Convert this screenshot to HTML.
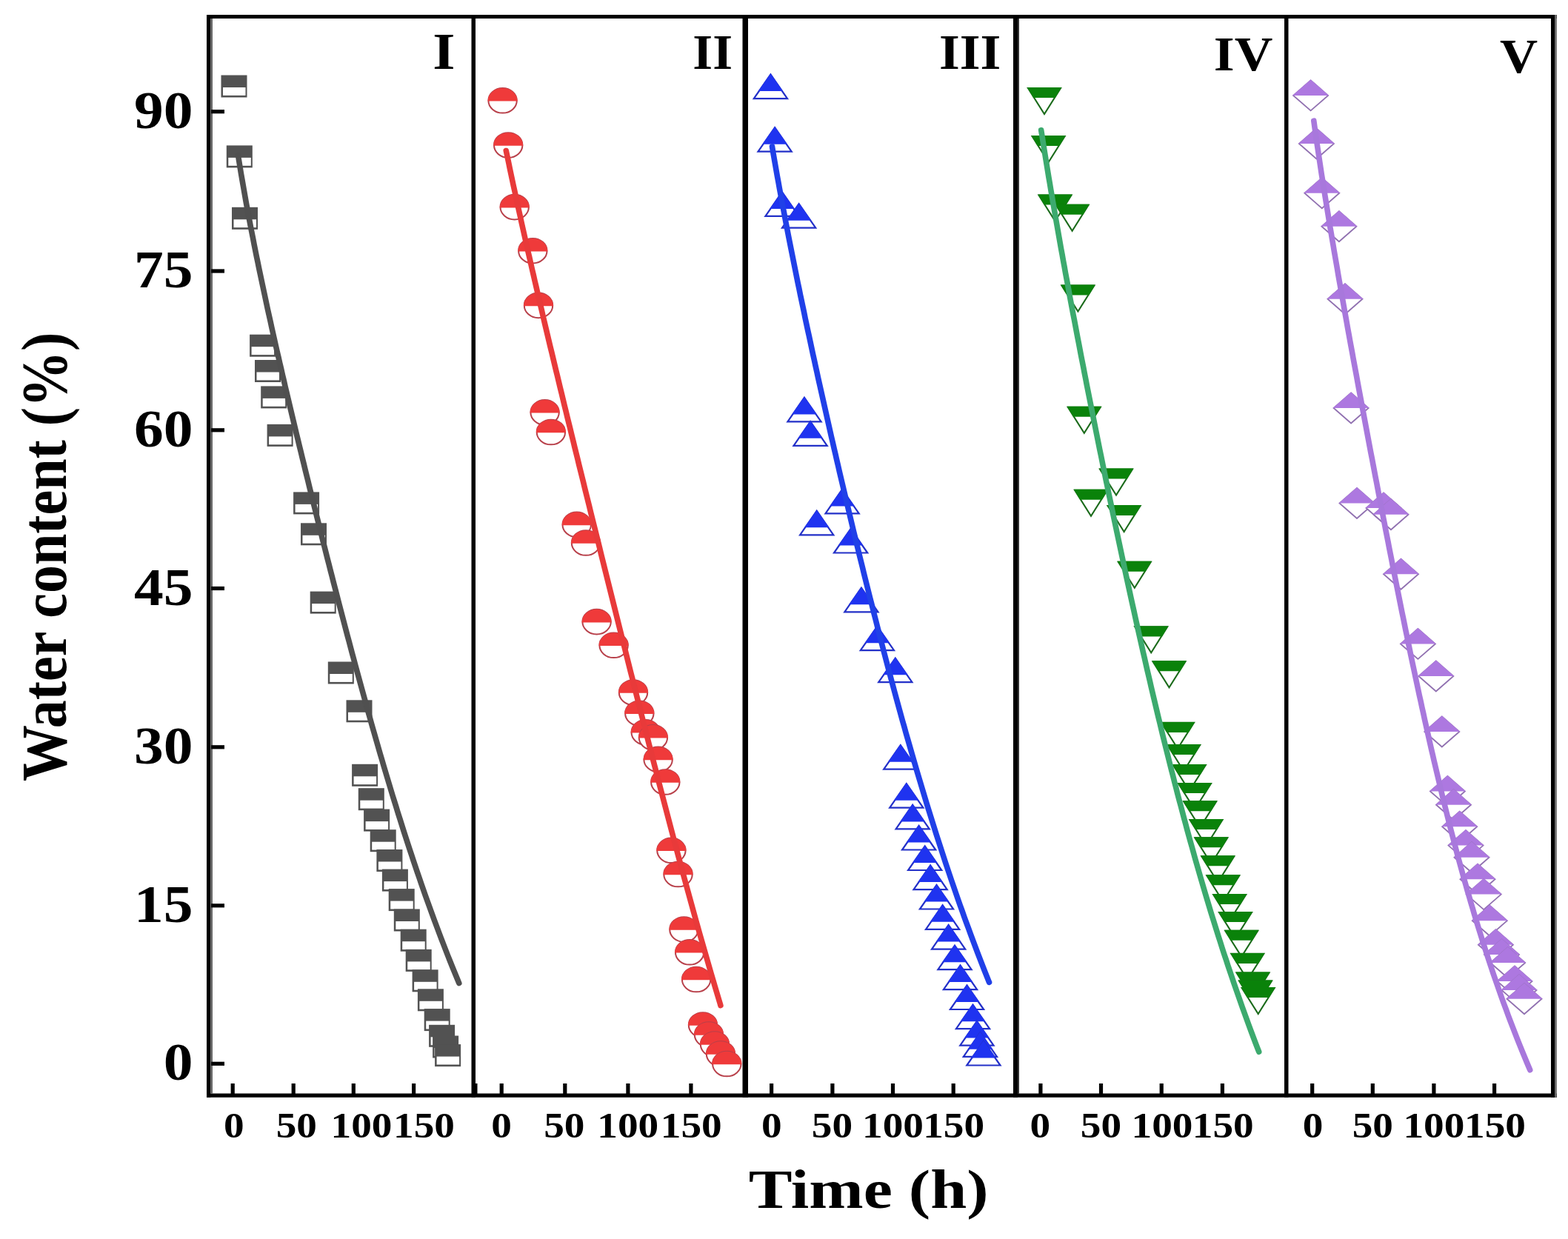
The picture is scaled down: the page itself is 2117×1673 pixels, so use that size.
<!DOCTYPE html><html><head><meta charset="utf-8"><title>Water content vs Time</title><style>html,body{margin:0;padding:0;background:#fff;overflow:hidden;}svg{display:block;}text{font-family:"Liberation Serif","Times New Roman",serif;font-weight:bold;fill:#000;}</style></head><body>
<svg width="2117" height="1673" viewBox="0 0 2117 1673">
<rect width="2117" height="1673" fill="#fff"/>
<g>
<rect x="298.5" y="101.5" width="35" height="30" fill="#525252"/><rect x="301" y="118" width="30.5" height="10.9" fill="#fff"/>
<rect x="305.8" y="196.4" width="35" height="30" fill="#525252"/><rect x="308.3" y="212.9" width="30.5" height="10.9" fill="#fff"/>
<rect x="313" y="279.8" width="35" height="30" fill="#525252"/><rect x="315.5" y="296.3" width="30.5" height="10.9" fill="#fff"/>
<rect x="337.1" y="451.7" width="35" height="30" fill="#525252"/><rect x="339.6" y="468.2" width="30.5" height="10.9" fill="#fff"/>
<rect x="344" y="486" width="35" height="30" fill="#525252"/><rect x="346.5" y="502.5" width="30.5" height="10.9" fill="#fff"/>
<rect x="352.2" y="521.4" width="35" height="30" fill="#525252"/><rect x="354.7" y="537.9" width="30.5" height="10.9" fill="#fff"/>
<rect x="360.6" y="572.9" width="35" height="30" fill="#525252"/><rect x="363.1" y="589.4" width="30.5" height="10.9" fill="#fff"/>
<rect x="396.1" y="664.4" width="35" height="30" fill="#525252"/><rect x="398.6" y="680.9" width="30.5" height="10.9" fill="#fff"/>
<rect x="406" y="706.3" width="35" height="30" fill="#525252"/><rect x="408.5" y="722.8" width="30.5" height="10.9" fill="#fff"/>
<rect x="418.7" y="798.6" width="35" height="30" fill="#525252"/><rect x="421.2" y="815.1" width="30.5" height="10.9" fill="#fff"/>
<rect x="442.8" y="893.5" width="35" height="30" fill="#525252"/><rect x="445.3" y="910" width="30.5" height="10.9" fill="#fff"/>
<rect x="467.5" y="945.3" width="35" height="30" fill="#525252"/><rect x="470" y="961.8" width="30.5" height="10.9" fill="#fff"/>
<rect x="475.1" y="1031.8" width="35" height="30" fill="#525252"/><rect x="477.6" y="1048.3" width="30.5" height="10.9" fill="#fff"/>
<rect x="483.8" y="1064.2" width="35" height="30" fill="#525252"/><rect x="486.3" y="1080.7" width="30.5" height="10.9" fill="#fff"/>
<rect x="491.1" y="1092.6" width="35" height="30" fill="#525252"/><rect x="493.6" y="1109.1" width="30.5" height="10.9" fill="#fff"/>
<rect x="499.7" y="1120.2" width="35" height="30" fill="#525252"/><rect x="502.2" y="1136.7" width="30.5" height="10.9" fill="#fff"/>
<rect x="508.4" y="1147" width="35" height="30" fill="#525252"/><rect x="510.9" y="1163.5" width="30.5" height="10.9" fill="#fff"/>
<rect x="515.9" y="1173.6" width="35" height="30" fill="#525252"/><rect x="518.4" y="1190.1" width="30.5" height="10.9" fill="#fff"/>
<rect x="524.7" y="1200.1" width="35" height="30" fill="#525252"/><rect x="527.2" y="1216.6" width="30.5" height="10.9" fill="#fff"/>
<rect x="531.8" y="1227.5" width="35" height="30" fill="#525252"/><rect x="534.3" y="1244" width="30.5" height="10.9" fill="#fff"/>
<rect x="540.7" y="1254.7" width="35" height="30" fill="#525252"/><rect x="543.2" y="1271.2" width="30.5" height="10.9" fill="#fff"/>
<rect x="547.7" y="1281.9" width="35" height="30" fill="#525252"/><rect x="550.2" y="1298.4" width="30.5" height="10.9" fill="#fff"/>
<rect x="556.6" y="1309.3" width="35" height="30" fill="#525252"/><rect x="559.1" y="1325.8" width="30.5" height="10.9" fill="#fff"/>
<rect x="563.9" y="1335.3" width="35" height="30" fill="#525252"/><rect x="566.4" y="1351.8" width="30.5" height="10.9" fill="#fff"/>
<rect x="572.7" y="1362.1" width="35" height="30" fill="#525252"/><rect x="575.2" y="1378.6" width="30.5" height="10.9" fill="#fff"/>
<rect x="579.1" y="1383.8" width="35" height="30" fill="#525252"/><rect x="581.6" y="1400.3" width="30.5" height="10.9" fill="#fff"/>
<rect x="584.1" y="1398.5" width="35" height="30" fill="#525252"/><rect x="586.6" y="1415" width="30.5" height="10.9" fill="#fff"/>
<rect x="587.1" y="1410.1" width="35" height="30" fill="#525252"/><rect x="589.6" y="1426.6" width="30.5" height="10.9" fill="#fff"/>
<path d="M321.5,210 L322.8,218 L324.1,226 L325.4,234 L326.8,242 L328.2,250 L329.6,258 L331,266 L332.4,274 L333.9,282 L335.4,290 L336.9,298 L338.4,306 L340,314 L341.6,322 L343.1,330 L344.7,338 L346.3,346 L348,354 L349.6,362 L351.3,370 L353,378 L354.7,386 L356.4,394 L358.1,402 L359.8,410 L361.5,418 L363.3,426 L365.1,434 L366.8,442 L368.6,450 L370.4,458 L372.2,466 L374,474 L375.9,482 L377.7,490 L379.6,498 L381.4,506 L383.3,514 L385.1,522 L387,530 L388.9,538 L390.8,546 L392.7,554 L394.6,562 L396.5,570 L398.4,578 L400.3,586 L402.3,594 L404.2,602 L406.2,610 L408.1,618 L410.1,626 L412,634 L414,642 L416,650 L417.9,658 L419.9,666 L421.9,674 L423.9,682 L425.9,690 L427.9,698 L429.9,706 L431.9,714 L433.9,722 L435.9,730 L438,738 L440,746 L442,754 L444.1,762 L446.1,770 L448.2,778 L450.2,786 L452.3,794 L454.4,802 L456.4,810 L458.5,818 L460.6,826 L462.7,834 L464.8,842 L466.9,850 L469,858 L471.2,866 L473.3,874 L475.4,882 L477.6,890 L479.7,898 L481.9,906 L484.1,914 L486.3,922 L488.5,930 L490.7,938 L492.9,946 L495.1,954 L497.3,962 L499.6,970 L501.8,978 L504.1,986 L506.4,994 L508.7,1002 L511,1010 L513.3,1018 L515.7,1026 L518,1034 L520.4,1042 L522.8,1050 L525.2,1058 L527.6,1066 L530,1074 L532.5,1082 L535,1090 L537.4,1098 L540,1106 L542.5,1114 L545,1122 L547.6,1130 L550.2,1138 L552.8,1146 L555.5,1154 L558.1,1162 L560.8,1170 L563.5,1178 L566.3,1186 L569,1194 L571.8,1202 L574.6,1210 L577.5,1218 L580.4,1226 L583.3,1234 L586.2,1242 L589.2,1250 L592.2,1258 L595.2,1266 L598.3,1274 L601.4,1282 L604.5,1290 L607.7,1298 L610.9,1306 L614.2,1314 L617.5,1322 L619.8,1327.6" fill="none" stroke="#505050" stroke-width="7.6" stroke-linejoin="round" stroke-linecap="round"/>
</g>
<g>
<ellipse cx="678.6" cy="135.8" rx="19.2" ry="16.8" fill="#fff" stroke="#b8404a" stroke-width="2"/><path d="M658.6,136.6 A20.0,17.6 0 0 1 698.6,136.6 Z" fill="#ef3a3a"/>
<ellipse cx="686.2" cy="196" rx="19.2" ry="16.8" fill="#fff" stroke="#b8404a" stroke-width="2"/><path d="M666.2,196.8 A20.0,17.6 0 0 1 706.2,196.8 Z" fill="#ef3a3a"/>
<ellipse cx="694.7" cy="279.6" rx="19.2" ry="16.8" fill="#fff" stroke="#b8404a" stroke-width="2"/><path d="M674.7,280.4 A20.0,17.6 0 0 1 714.7,280.4 Z" fill="#ef3a3a"/>
<ellipse cx="719.3" cy="338.7" rx="19.2" ry="16.8" fill="#fff" stroke="#b8404a" stroke-width="2"/><path d="M699.3,339.5 A20.0,17.6 0 0 1 739.3,339.5 Z" fill="#ef3a3a"/>
<ellipse cx="727" cy="412.4" rx="19.2" ry="16.8" fill="#fff" stroke="#b8404a" stroke-width="2"/><path d="M707,413.2 A20.0,17.6 0 0 1 747,413.2 Z" fill="#ef3a3a"/>
<ellipse cx="735.6" cy="556.8" rx="19.2" ry="16.8" fill="#fff" stroke="#b8404a" stroke-width="2"/><path d="M715.6,557.6 A20.0,17.6 0 0 1 755.6,557.6 Z" fill="#ef3a3a"/>
<ellipse cx="743.9" cy="583.5" rx="19.2" ry="16.8" fill="#fff" stroke="#b8404a" stroke-width="2"/><path d="M723.9,584.3 A20.0,17.6 0 0 1 763.9,584.3 Z" fill="#ef3a3a"/>
<ellipse cx="778.7" cy="708.4" rx="19.2" ry="16.8" fill="#fff" stroke="#b8404a" stroke-width="2"/><path d="M758.7,709.2 A20.0,17.6 0 0 1 798.7,709.2 Z" fill="#ef3a3a"/>
<ellipse cx="791" cy="733" rx="19.2" ry="16.8" fill="#fff" stroke="#b8404a" stroke-width="2"/><path d="M771,733.8 A20.0,17.6 0 0 1 811,733.8 Z" fill="#ef3a3a"/>
<ellipse cx="805.6" cy="839.6" rx="19.2" ry="16.8" fill="#fff" stroke="#b8404a" stroke-width="2"/><path d="M785.6,840.4 A20.0,17.6 0 0 1 825.6,840.4 Z" fill="#ef3a3a"/>
<ellipse cx="828.6" cy="871.3" rx="19.2" ry="16.8" fill="#fff" stroke="#b8404a" stroke-width="2"/><path d="M808.6,872.1 A20.0,17.6 0 0 1 848.6,872.1 Z" fill="#ef3a3a"/>
<ellipse cx="855" cy="935" rx="19.2" ry="16.8" fill="#fff" stroke="#b8404a" stroke-width="2"/><path d="M835,935.8 A20.0,17.6 0 0 1 875,935.8 Z" fill="#ef3a3a"/>
<ellipse cx="863.3" cy="963.2" rx="19.2" ry="16.8" fill="#fff" stroke="#b8404a" stroke-width="2"/><path d="M843.3,964 A20.0,17.6 0 0 1 883.3,964 Z" fill="#ef3a3a"/>
<ellipse cx="871.7" cy="988.8" rx="19.2" ry="16.8" fill="#fff" stroke="#b8404a" stroke-width="2"/><path d="M851.7,989.6 A20.0,17.6 0 0 1 891.7,989.6 Z" fill="#ef3a3a"/>
<ellipse cx="881.9" cy="995.8" rx="19.2" ry="16.8" fill="#fff" stroke="#b8404a" stroke-width="2"/><path d="M861.9,996.6 A20.0,17.6 0 0 1 901.9,996.6 Z" fill="#ef3a3a"/>
<ellipse cx="888.6" cy="1025.4" rx="19.2" ry="16.8" fill="#fff" stroke="#b8404a" stroke-width="2"/><path d="M868.6,1026.2 A20.0,17.6 0 0 1 908.6,1026.2 Z" fill="#ef3a3a"/>
<ellipse cx="898.3" cy="1056" rx="19.2" ry="16.8" fill="#fff" stroke="#b8404a" stroke-width="2"/><path d="M878.3,1056.8 A20.0,17.6 0 0 1 918.3,1056.8 Z" fill="#ef3a3a"/>
<ellipse cx="906.4" cy="1148.3" rx="19.2" ry="16.8" fill="#fff" stroke="#b8404a" stroke-width="2"/><path d="M886.4,1149.1 A20.0,17.6 0 0 1 926.4,1149.1 Z" fill="#ef3a3a"/>
<ellipse cx="915.5" cy="1180.5" rx="19.2" ry="16.8" fill="#fff" stroke="#b8404a" stroke-width="2"/><path d="M895.5,1181.3 A20.0,17.6 0 0 1 935.5,1181.3 Z" fill="#ef3a3a"/>
<ellipse cx="923.4" cy="1255" rx="19.2" ry="16.8" fill="#fff" stroke="#b8404a" stroke-width="2"/><path d="M903.4,1255.8 A20.0,17.6 0 0 1 943.4,1255.8 Z" fill="#ef3a3a"/>
<ellipse cx="931.1" cy="1285.8" rx="19.2" ry="16.8" fill="#fff" stroke="#b8404a" stroke-width="2"/><path d="M911.1,1286.6 A20.0,17.6 0 0 1 951.1,1286.6 Z" fill="#ef3a3a"/>
<ellipse cx="940.1" cy="1322.5" rx="19.2" ry="16.8" fill="#fff" stroke="#b8404a" stroke-width="2"/><path d="M920.1,1323.3 A20.0,17.6 0 0 1 960.1,1323.3 Z" fill="#ef3a3a"/>
<ellipse cx="949" cy="1384" rx="19.2" ry="16.8" fill="#fff" stroke="#b8404a" stroke-width="2"/><path d="M929,1384.8 A20.0,17.6 0 0 1 969,1384.8 Z" fill="#ef3a3a"/>
<ellipse cx="957" cy="1397" rx="19.2" ry="16.8" fill="#fff" stroke="#b8404a" stroke-width="2"/><path d="M937,1397.8 A20.0,17.6 0 0 1 977,1397.8 Z" fill="#ef3a3a"/>
<ellipse cx="965" cy="1410" rx="19.2" ry="16.8" fill="#fff" stroke="#b8404a" stroke-width="2"/><path d="M945,1410.8 A20.0,17.6 0 0 1 985,1410.8 Z" fill="#ef3a3a"/>
<ellipse cx="973" cy="1423" rx="19.2" ry="16.8" fill="#fff" stroke="#b8404a" stroke-width="2"/><path d="M953,1423.8 A20.0,17.6 0 0 1 993,1423.8 Z" fill="#ef3a3a"/>
<ellipse cx="981.3" cy="1436.5" rx="19.2" ry="16.8" fill="#fff" stroke="#b8404a" stroke-width="2"/><path d="M961.3,1437.3 A20.0,17.6 0 0 1 1001.3,1437.3 Z" fill="#ef3a3a"/>
<path d="M683.3,203.5 L685,211.5 L686.7,219.5 L688.3,227.5 L690,235.5 L691.7,243.5 L693.4,251.5 L695.2,259.5 L696.9,267.5 L698.7,275.5 L700.4,283.5 L702.2,291.5 L703.9,299.5 L705.7,307.5 L707.5,315.5 L709.3,323.5 L711.1,331.5 L712.9,339.5 L714.8,347.5 L716.6,355.5 L718.4,363.5 L720.3,371.5 L722.1,379.5 L724,387.5 L725.8,395.5 L727.7,403.5 L729.6,411.5 L731.5,419.5 L733.3,427.5 L735.2,435.5 L737.1,443.5 L739,451.5 L740.9,459.5 L742.8,467.5 L744.8,475.5 L746.7,483.5 L748.6,491.5 L750.5,499.5 L752.5,507.5 L754.4,515.5 L756.3,523.5 L758.3,531.5 L760.2,539.5 L762.1,547.5 L764.1,555.5 L766,563.5 L768,571.5 L770,579.5 L771.9,587.5 L773.9,595.5 L775.8,603.5 L777.8,611.5 L779.8,619.5 L781.7,627.5 L783.7,635.5 L785.7,643.5 L787.7,651.5 L789.6,659.5 L791.6,667.5 L793.6,675.5 L795.6,683.5 L797.5,691.5 L799.5,699.5 L801.5,707.5 L803.5,715.5 L805.5,723.5 L807.5,731.5 L809.5,739.5 L811.4,747.5 L813.4,755.5 L815.4,763.5 L817.4,771.5 L819.4,779.5 L821.4,787.5 L823.4,795.5 L825.4,803.5 L827.4,811.5 L829.4,819.5 L831.4,827.5 L833.4,835.5 L835.4,843.5 L837.4,851.5 L839.4,859.5 L841.5,867.5 L843.5,875.5 L845.5,883.5 L847.5,891.5 L849.5,899.5 L851.5,907.5 L853.6,915.5 L855.6,923.5 L857.6,931.5 L859.6,939.5 L861.7,947.5 L863.7,955.5 L865.7,963.5 L867.8,971.5 L869.8,979.5 L871.9,987.5 L873.9,995.5 L875.9,1003.5 L878,1011.5 L880.1,1019.5 L882.1,1027.5 L884.2,1035.5 L886.3,1043.5 L888.3,1051.5 L890.4,1059.5 L892.5,1067.5 L894.6,1075.5 L896.7,1083.5 L898.8,1091.5 L900.9,1099.5 L903,1107.5 L905.1,1115.5 L907.2,1123.5 L909.3,1131.5 L911.5,1139.5 L913.6,1147.5 L915.7,1155.5 L917.9,1163.5 L920,1171.5 L922.2,1179.5 L924.4,1187.5 L926.6,1195.5 L928.8,1203.5 L931,1211.5 L933.2,1219.5 L935.4,1227.5 L937.6,1235.5 L939.8,1243.5 L942.1,1251.5 L944.3,1259.5 L946.6,1267.5 L948.9,1275.5 L951.2,1283.5 L953.5,1291.5 L955.8,1299.5 L958.1,1307.5 L960.4,1315.5 L962.8,1323.5 L965.1,1331.5 L967.5,1339.5 L969.9,1347.5 L972.3,1355.5 L972.9,1357.7" fill="none" stroke="#e83a3a" stroke-width="7.6" stroke-linejoin="round" stroke-linecap="round"/>
</g>
<g>
<polygon points="1040.4,100.5 1063,133.1 1017.8,133.1" fill="#fff" stroke="#2330c8" stroke-width="2.2" stroke-linejoin="miter"/><polygon points="1040.4,99.5 1057.1,123.1 1023.7,123.1" fill="#1f33f0"/>
<polygon points="1046.1,172.1 1068.7,204.7 1023.5,204.7" fill="#fff" stroke="#2330c8" stroke-width="2.2" stroke-linejoin="miter"/><polygon points="1046.1,171.1 1062.8,194.7 1029.4,194.7" fill="#1f33f0"/>
<polygon points="1056,259.3 1078.6,291.9 1033.4,291.9" fill="#fff" stroke="#2330c8" stroke-width="2.2" stroke-linejoin="miter"/><polygon points="1056,258.3 1072.7,281.9 1039.3,281.9" fill="#1f33f0"/>
<polygon points="1078.6,275.1 1101.2,307.7 1056,307.7" fill="#fff" stroke="#2330c8" stroke-width="2.2" stroke-linejoin="miter"/><polygon points="1078.6,274.1 1095.3,297.7 1061.9,297.7" fill="#1f33f0"/>
<polygon points="1086,536.8 1108.6,569.4 1063.4,569.4" fill="#fff" stroke="#2330c8" stroke-width="2.2" stroke-linejoin="miter"/><polygon points="1086,535.8 1102.7,559.4 1069.3,559.4" fill="#1f33f0"/>
<polygon points="1094.1,569.2 1116.7,601.8 1071.5,601.8" fill="#fff" stroke="#2330c8" stroke-width="2.2" stroke-linejoin="miter"/><polygon points="1094.1,568.2 1110.8,591.8 1077.4,591.8" fill="#1f33f0"/>
<polygon points="1102.7,689.7 1125.3,722.3 1080.1,722.3" fill="#fff" stroke="#2330c8" stroke-width="2.2" stroke-linejoin="miter"/><polygon points="1102.7,688.7 1119.4,712.3 1086,712.3" fill="#1f33f0"/>
<polygon points="1137.1,660.8 1159.7,693.4 1114.5,693.4" fill="#fff" stroke="#2330c8" stroke-width="2.2" stroke-linejoin="miter"/><polygon points="1137.1,659.8 1153.8,683.4 1120.4,683.4" fill="#1f33f0"/>
<polygon points="1148.6,713.9 1171.2,746.5 1126,746.5" fill="#fff" stroke="#2330c8" stroke-width="2.2" stroke-linejoin="miter"/><polygon points="1148.6,712.9 1165.3,736.5 1131.9,736.5" fill="#1f33f0"/>
<polygon points="1162.9,793.7 1185.5,826.3 1140.3,826.3" fill="#fff" stroke="#2330c8" stroke-width="2.2" stroke-linejoin="miter"/><polygon points="1162.9,792.7 1179.6,816.3 1146.2,816.3" fill="#1f33f0"/>
<polygon points="1184.4,845.6 1207,878.2 1161.8,878.2" fill="#fff" stroke="#2330c8" stroke-width="2.2" stroke-linejoin="miter"/><polygon points="1184.4,844.6 1201.1,868.2 1167.7,868.2" fill="#1f33f0"/>
<polygon points="1208.8,888.6 1231.4,921.2 1186.2,921.2" fill="#fff" stroke="#2330c8" stroke-width="2.2" stroke-linejoin="miter"/><polygon points="1208.8,887.6 1225.5,911.2 1192.1,911.2" fill="#1f33f0"/>
<polygon points="1215.8,1006.1 1238.4,1038.7 1193.2,1038.7" fill="#fff" stroke="#2330c8" stroke-width="2.2" stroke-linejoin="miter"/><polygon points="1215.8,1005.1 1232.5,1028.7 1199.1,1028.7" fill="#1f33f0"/>
<polygon points="1223.8,1058.1 1246.4,1090.7 1201.2,1090.7" fill="#fff" stroke="#2330c8" stroke-width="2.2" stroke-linejoin="miter"/><polygon points="1223.8,1057.1 1240.5,1080.7 1207.1,1080.7" fill="#1f33f0"/>
<polygon points="1232.2,1086.8 1254.8,1119.4 1209.6,1119.4" fill="#fff" stroke="#2330c8" stroke-width="2.2" stroke-linejoin="miter"/><polygon points="1232.2,1085.8 1248.9,1109.4 1215.5,1109.4" fill="#1f33f0"/>
<polygon points="1240.6,1114.9 1263.2,1147.5 1218,1147.5" fill="#fff" stroke="#2330c8" stroke-width="2.2" stroke-linejoin="miter"/><polygon points="1240.6,1113.9 1257.3,1137.5 1223.9,1137.5" fill="#1f33f0"/>
<polygon points="1248.7,1142.4 1271.3,1175 1226.1,1175" fill="#fff" stroke="#2330c8" stroke-width="2.2" stroke-linejoin="miter"/><polygon points="1248.7,1141.4 1265.4,1165 1232,1165" fill="#1f33f0"/>
<polygon points="1256.1,1168.5 1278.7,1201.1 1233.5,1201.1" fill="#fff" stroke="#2330c8" stroke-width="2.2" stroke-linejoin="miter"/><polygon points="1256.1,1167.5 1272.8,1191.1 1239.4,1191.1" fill="#1f33f0"/>
<polygon points="1264.5,1194.9 1287.1,1227.5 1241.9,1227.5" fill="#fff" stroke="#2330c8" stroke-width="2.2" stroke-linejoin="miter"/><polygon points="1264.5,1193.9 1281.2,1217.5 1247.8,1217.5" fill="#1f33f0"/>
<polygon points="1272.6,1222.2 1295.2,1254.8 1250,1254.8" fill="#fff" stroke="#2330c8" stroke-width="2.2" stroke-linejoin="miter"/><polygon points="1272.6,1221.2 1289.3,1244.8 1255.9,1244.8" fill="#1f33f0"/>
<polygon points="1280.6,1249 1303.2,1281.6 1258,1281.6" fill="#fff" stroke="#2330c8" stroke-width="2.2" stroke-linejoin="miter"/><polygon points="1280.6,1248 1297.3,1271.6 1263.9,1271.6" fill="#1f33f0"/>
<polygon points="1289,1276.6 1311.6,1309.2 1266.4,1309.2" fill="#fff" stroke="#2330c8" stroke-width="2.2" stroke-linejoin="miter"/><polygon points="1289,1275.6 1305.7,1299.2 1272.3,1299.2" fill="#1f33f0"/>
<polygon points="1296.5,1303.5 1319.1,1336.1 1273.9,1336.1" fill="#fff" stroke="#2330c8" stroke-width="2.2" stroke-linejoin="miter"/><polygon points="1296.5,1302.5 1313.2,1326.1 1279.8,1326.1" fill="#1f33f0"/>
<polygon points="1305.5,1330.4 1328.1,1363 1282.9,1363" fill="#fff" stroke="#2330c8" stroke-width="2.2" stroke-linejoin="miter"/><polygon points="1305.5,1329.4 1322.2,1353 1288.8,1353" fill="#1f33f0"/>
<polygon points="1313.5,1356.6 1336.1,1389.2 1290.9,1389.2" fill="#fff" stroke="#2330c8" stroke-width="2.2" stroke-linejoin="miter"/><polygon points="1313.5,1355.6 1330.2,1379.2 1296.8,1379.2" fill="#1f33f0"/>
<polygon points="1318.9,1379 1341.5,1411.6 1296.3,1411.6" fill="#fff" stroke="#2330c8" stroke-width="2.2" stroke-linejoin="miter"/><polygon points="1318.9,1378 1335.6,1401.6 1302.2,1401.6" fill="#1f33f0"/>
<polygon points="1323.4,1394.2 1346,1426.8 1300.8,1426.8" fill="#fff" stroke="#2330c8" stroke-width="2.2" stroke-linejoin="miter"/><polygon points="1323.4,1393.2 1340.1,1416.8 1306.7,1416.8" fill="#1f33f0"/>
<polygon points="1327.9,1405.9 1350.5,1438.5 1305.3,1438.5" fill="#fff" stroke="#2330c8" stroke-width="2.2" stroke-linejoin="miter"/><polygon points="1327.9,1404.9 1344.6,1428.5 1311.2,1428.5" fill="#1f33f0"/>
<path d="M1042.5,197.9 L1043.8,205.9 L1045.2,213.9 L1046.6,221.9 L1048,229.9 L1049.4,237.9 L1050.9,245.9 L1052.3,253.9 L1053.8,261.9 L1055.3,269.9 L1056.8,277.9 L1058.3,285.9 L1059.8,293.9 L1061.3,301.9 L1062.9,309.9 L1064.4,317.9 L1066,325.9 L1067.6,333.9 L1069.2,341.9 L1070.8,349.9 L1072.4,357.9 L1074,365.9 L1075.6,373.9 L1077.2,381.9 L1078.9,389.9 L1080.5,397.9 L1082.2,405.9 L1083.9,413.9 L1085.6,421.9 L1087.2,429.9 L1088.9,437.9 L1090.6,445.9 L1092.4,453.9 L1094.1,461.9 L1095.8,469.9 L1097.5,477.9 L1099.3,485.9 L1101,493.9 L1102.8,501.9 L1104.5,509.9 L1106.3,517.9 L1108.1,525.9 L1109.9,533.9 L1111.7,541.9 L1113.5,549.9 L1115.3,557.9 L1117.1,565.9 L1118.9,573.9 L1120.7,581.9 L1122.5,589.9 L1124.4,597.9 L1126.2,605.9 L1128.1,613.9 L1129.9,621.9 L1131.8,629.9 L1133.6,637.9 L1135.5,645.9 L1137.4,653.9 L1139.3,661.9 L1141.2,669.9 L1143.1,677.9 L1145,685.9 L1146.9,693.9 L1148.8,701.9 L1150.7,709.9 L1152.6,717.9 L1154.6,725.9 L1156.5,733.9 L1158.5,741.9 L1160.4,749.9 L1162.4,757.9 L1164.4,765.9 L1166.3,773.9 L1168.3,781.9 L1170.3,789.9 L1172.3,797.9 L1174.3,805.9 L1176.4,813.9 L1178.4,821.9 L1180.4,829.9 L1182.5,837.9 L1184.5,845.9 L1186.6,853.9 L1188.6,861.9 L1190.7,869.9 L1192.8,877.9 L1194.9,885.9 L1197,893.9 L1199.1,901.9 L1201.3,909.9 L1203.4,917.9 L1205.6,925.9 L1207.7,933.9 L1209.9,941.9 L1212.1,949.9 L1214.3,957.9 L1216.5,965.9 L1218.7,973.9 L1221,981.9 L1223.2,989.9 L1225.5,997.9 L1227.8,1005.9 L1230.1,1013.9 L1232.4,1021.9 L1234.7,1029.9 L1237,1037.9 L1239.4,1045.9 L1241.8,1053.9 L1244.2,1061.9 L1246.6,1069.9 L1249,1077.9 L1251.4,1085.9 L1253.9,1093.9 L1256.4,1101.9 L1258.9,1109.9 L1261.4,1117.9 L1263.9,1125.9 L1266.5,1133.9 L1269.1,1141.9 L1271.7,1149.9 L1274.3,1157.9 L1276.9,1165.9 L1279.6,1173.9 L1282.3,1181.9 L1285,1189.9 L1287.8,1197.9 L1290.5,1205.9 L1293.3,1213.9 L1296.1,1221.9 L1299,1229.9 L1301.8,1237.9 L1304.7,1245.9 L1307.7,1253.9 L1310.6,1261.9 L1313.6,1269.9 L1316.6,1277.9 L1319.6,1285.9 L1322.7,1293.9 L1325.8,1301.9 L1328.9,1309.9 L1332.1,1317.9 L1335.3,1325.9 L1335.5,1326.3" fill="none" stroke="#2040e8" stroke-width="7.6" stroke-linejoin="round" stroke-linecap="round"/>
</g>
<g>
<polygon points="1388,119.1 1432,119.1 1410,154.1" fill="#fff" stroke="#1b6b1b" stroke-width="2.1"/><polygon points="1387,118.1 1433,118.1 1424.8,132.1 1395.2,132.1" fill="#0a820a"/>
<polygon points="1393.6,184.1 1437.6,184.1 1415.6,219.1" fill="#fff" stroke="#1b6b1b" stroke-width="2.1"/><polygon points="1392.6,183.1 1438.6,183.1 1430.4,197.1 1400.8,197.1" fill="#0a820a"/>
<polygon points="1402.5,263.5 1446.5,263.5 1424.5,298.5" fill="#fff" stroke="#1b6b1b" stroke-width="2.1"/><polygon points="1401.5,262.5 1447.5,262.5 1439.3,276.5 1409.7,276.5" fill="#0a820a"/>
<polygon points="1425.6,276.8 1469.6,276.8 1447.6,311.8" fill="#fff" stroke="#1b6b1b" stroke-width="2.1"/><polygon points="1424.6,275.8 1470.6,275.8 1462.4,289.8 1432.8,289.8" fill="#0a820a"/>
<polygon points="1433.4,385.6 1477.4,385.6 1455.4,420.6" fill="#fff" stroke="#1b6b1b" stroke-width="2.1"/><polygon points="1432.4,384.6 1478.4,384.6 1470.2,398.6 1440.6,398.6" fill="#0a820a"/>
<polygon points="1441.8,549.8 1485.8,549.8 1463.8,584.8" fill="#fff" stroke="#1b6b1b" stroke-width="2.1"/><polygon points="1440.8,548.8 1486.8,548.8 1478.6,562.8 1449,562.8" fill="#0a820a"/>
<polygon points="1451,661.7 1495,661.7 1473,696.7" fill="#fff" stroke="#1b6b1b" stroke-width="2.1"/><polygon points="1450,660.7 1496,660.7 1487.8,674.7 1458.2,674.7" fill="#0a820a"/>
<polygon points="1485,633.5 1529,633.5 1507,668.5" fill="#fff" stroke="#1b6b1b" stroke-width="2.1"/><polygon points="1484,632.5 1530,632.5 1521.8,646.5 1492.2,646.5" fill="#0a820a"/>
<polygon points="1495.6,683 1539.6,683 1517.6,718" fill="#fff" stroke="#1b6b1b" stroke-width="2.1"/><polygon points="1494.6,682 1540.6,682 1532.4,696 1502.8,696" fill="#0a820a"/>
<polygon points="1509.8,758.8 1553.8,758.8 1531.8,793.8" fill="#fff" stroke="#1b6b1b" stroke-width="2.1"/><polygon points="1508.8,757.8 1554.8,757.8 1546.6,771.8 1517,771.8" fill="#0a820a"/>
<polygon points="1532.2,846.4 1576.2,846.4 1554.2,881.4" fill="#fff" stroke="#1b6b1b" stroke-width="2.1"/><polygon points="1531.2,845.4 1577.2,845.4 1569,859.4 1539.4,859.4" fill="#0a820a"/>
<polygon points="1556.5,893.3 1600.5,893.3 1578.5,928.3" fill="#fff" stroke="#1b6b1b" stroke-width="2.1"/><polygon points="1555.5,892.3 1601.5,892.3 1593.3,906.3 1563.7,906.3" fill="#0a820a"/>
<polygon points="1568,975.9 1612,975.9 1590,1010.9" fill="#fff" stroke="#1b6b1b" stroke-width="2.1"/><polygon points="1567,974.9 1613,974.9 1604.8,988.9 1575.2,988.9" fill="#0a820a"/>
<polygon points="1576.2,1006 1620.2,1006 1598.2,1041" fill="#fff" stroke="#1b6b1b" stroke-width="2.1"/><polygon points="1575.2,1005 1621.2,1005 1613,1019 1583.4,1019" fill="#0a820a"/>
<polygon points="1583.8,1033.1 1627.8,1033.1 1605.8,1068.1" fill="#fff" stroke="#1b6b1b" stroke-width="2.1"/><polygon points="1582.8,1032.1 1628.8,1032.1 1620.6,1046.1 1591,1046.1" fill="#0a820a"/>
<polygon points="1591,1058 1635,1058 1613,1093" fill="#fff" stroke="#1b6b1b" stroke-width="2.1"/><polygon points="1590,1057 1636,1057 1627.8,1071 1598.2,1071" fill="#0a820a"/>
<polygon points="1598.2,1082.2 1642.2,1082.2 1620.2,1117.2" fill="#fff" stroke="#1b6b1b" stroke-width="2.1"/><polygon points="1597.2,1081.2 1643.2,1081.2 1635,1095.2 1605.4,1095.2" fill="#0a820a"/>
<polygon points="1606.5,1107 1650.5,1107 1628.5,1142" fill="#fff" stroke="#1b6b1b" stroke-width="2.1"/><polygon points="1605.5,1106 1651.5,1106 1643.3,1120 1613.7,1120" fill="#0a820a"/>
<polygon points="1613.3,1131.3 1657.3,1131.3 1635.3,1166.3" fill="#fff" stroke="#1b6b1b" stroke-width="2.1"/><polygon points="1612.3,1130.3 1658.3,1130.3 1650.1,1144.3 1620.5,1144.3" fill="#0a820a"/>
<polygon points="1622.3,1156.2 1666.3,1156.2 1644.3,1191.2" fill="#fff" stroke="#1b6b1b" stroke-width="2.1"/><polygon points="1621.3,1155.2 1667.3,1155.2 1659.1,1169.2 1629.5,1169.2" fill="#0a820a"/>
<polygon points="1629.3,1182.3 1673.3,1182.3 1651.3,1217.3" fill="#fff" stroke="#1b6b1b" stroke-width="2.1"/><polygon points="1628.3,1181.3 1674.3,1181.3 1666.1,1195.3 1636.5,1195.3" fill="#0a820a"/>
<polygon points="1638.2,1208 1682.2,1208 1660.2,1243" fill="#fff" stroke="#1b6b1b" stroke-width="2.1"/><polygon points="1637.2,1207 1683.2,1207 1675,1221 1645.4,1221" fill="#0a820a"/>
<polygon points="1646,1232 1690,1232 1668,1267" fill="#fff" stroke="#1b6b1b" stroke-width="2.1"/><polygon points="1645,1231 1691,1231 1682.8,1245 1653.2,1245" fill="#0a820a"/>
<polygon points="1654.2,1256.8 1698.2,1256.8 1676.2,1291.8" fill="#fff" stroke="#1b6b1b" stroke-width="2.1"/><polygon points="1653.2,1255.8 1699.2,1255.8 1691,1269.8 1661.4,1269.8" fill="#0a820a"/>
<polygon points="1662.3,1287.9 1706.3,1287.9 1684.3,1322.9" fill="#fff" stroke="#1b6b1b" stroke-width="2.1"/><polygon points="1661.3,1286.9 1707.3,1286.9 1699.1,1300.9 1669.5,1300.9" fill="#0a820a"/>
<polygon points="1669.5,1313.5 1713.5,1313.5 1691.5,1348.5" fill="#fff" stroke="#1b6b1b" stroke-width="2.1"/><polygon points="1668.5,1312.5 1714.5,1312.5 1706.3,1326.5 1676.7,1326.5" fill="#0a820a"/>
<polygon points="1673,1324.5 1717,1324.5 1695,1359.5" fill="#fff" stroke="#1b6b1b" stroke-width="2.1"/><polygon points="1672,1323.5 1718,1323.5 1709.8,1337.5 1680.2,1337.5" fill="#0a820a"/>
<polygon points="1676.7,1334 1720.7,1334 1698.7,1369" fill="#fff" stroke="#1b6b1b" stroke-width="2.1"/><polygon points="1675.7,1333 1721.7,1333 1713.5,1347 1683.9,1347" fill="#0a820a"/>
<path d="M1405.7,175.8 L1407,183.8 L1408.2,191.8 L1409.5,199.8 L1410.8,207.8 L1412.1,215.8 L1413.4,223.8 L1414.7,231.8 L1416,239.8 L1417.4,247.8 L1418.7,255.8 L1420.1,263.8 L1421.4,271.8 L1422.8,279.8 L1424.2,287.8 L1425.6,295.8 L1427,303.8 L1428.4,311.8 L1429.8,319.8 L1431.2,327.8 L1432.6,335.8 L1434.1,343.8 L1435.5,351.8 L1437,359.8 L1438.4,367.8 L1439.9,375.8 L1441.4,383.8 L1442.9,391.8 L1444.3,399.8 L1445.8,407.8 L1447.3,415.8 L1448.8,423.8 L1450.4,431.8 L1451.9,439.8 L1453.4,447.8 L1454.9,455.8 L1456.5,463.8 L1458,471.8 L1459.5,479.8 L1461.1,487.8 L1462.7,495.8 L1464.2,503.8 L1465.8,511.8 L1467.3,519.8 L1468.9,527.8 L1470.5,535.8 L1472.1,543.8 L1473.7,551.8 L1475.3,559.8 L1476.9,567.8 L1478.5,575.8 L1480.1,583.8 L1481.7,591.8 L1483.3,599.8 L1484.9,607.8 L1486.6,615.8 L1488.2,623.8 L1489.8,631.8 L1491.5,639.8 L1493.1,647.8 L1494.8,655.8 L1496.4,663.8 L1498.1,671.8 L1499.8,679.8 L1501.4,687.8 L1503.1,695.8 L1504.8,703.8 L1506.5,711.8 L1508.2,719.8 L1509.9,727.8 L1511.6,735.8 L1513.3,743.8 L1515,751.8 L1516.7,759.8 L1518.4,767.8 L1520.1,775.8 L1521.9,783.8 L1523.6,791.8 L1525.4,799.8 L1527.1,807.8 L1528.9,815.8 L1530.7,823.8 L1532.4,831.8 L1534.2,839.8 L1536,847.8 L1537.8,855.8 L1539.6,863.8 L1541.4,871.8 L1543.2,879.8 L1545.1,887.8 L1546.9,895.8 L1548.7,903.8 L1550.6,911.8 L1552.5,919.8 L1554.3,927.8 L1556.2,935.8 L1558.1,943.8 L1560,951.8 L1561.9,959.8 L1563.8,967.8 L1565.8,975.8 L1567.7,983.8 L1569.6,991.8 L1571.6,999.8 L1573.6,1007.8 L1575.6,1015.8 L1577.6,1023.8 L1579.6,1031.8 L1581.6,1039.8 L1583.7,1047.8 L1585.7,1055.8 L1587.8,1063.8 L1589.8,1071.8 L1591.9,1079.8 L1594.1,1087.8 L1596.2,1095.8 L1598.3,1103.8 L1600.5,1111.8 L1602.6,1119.8 L1604.8,1127.8 L1607,1135.8 L1609.3,1143.8 L1611.5,1151.8 L1613.7,1159.8 L1616,1167.8 L1618.3,1175.8 L1620.6,1183.8 L1623,1191.8 L1625.3,1199.8 L1627.7,1207.8 L1630.1,1215.8 L1632.5,1223.8 L1634.9,1231.8 L1637.4,1239.8 L1639.9,1247.8 L1642.4,1255.8 L1644.9,1263.8 L1647.5,1271.8 L1650,1279.8 L1652.6,1287.8 L1655.3,1295.8 L1657.9,1303.8 L1660.6,1311.8 L1663.3,1319.8 L1666,1327.8 L1668.8,1335.8 L1671.6,1343.8 L1674.4,1351.8 L1677.2,1359.8 L1680.1,1367.8 L1683,1375.8 L1685.9,1383.8 L1688.9,1391.8 L1691.9,1399.8 L1694.9,1407.8 L1698,1415.8 L1699.7,1420.2" fill="none" stroke="#3caa6e" stroke-width="7.6" stroke-linejoin="round" stroke-linecap="round"/>
</g>
<g>
<polygon points="1769.6,108.4 1793.1,128.9 1769.6,149.4 1746.1,128.9" fill="#fff" stroke="#9070b0" stroke-width="1.8"/><polygon points="1769.6,107.4 1794.1,128.9 1745.1,128.9" fill="#ad78e0"/>
<polygon points="1777.4,173.5 1800.9,194 1777.4,214.5 1753.9,194" fill="#fff" stroke="#9070b0" stroke-width="1.8"/><polygon points="1777.4,172.5 1801.9,194 1752.9,194" fill="#ad78e0"/>
<polygon points="1784.8,240.3 1808.3,260.8 1784.8,281.3 1761.3,260.8" fill="#fff" stroke="#9070b0" stroke-width="1.8"/><polygon points="1784.8,239.3 1809.3,260.8 1760.3,260.8" fill="#ad78e0"/>
<polygon points="1807.9,285.2 1831.4,305.7 1807.9,326.2 1784.4,305.7" fill="#fff" stroke="#9070b0" stroke-width="1.8"/><polygon points="1807.9,284.2 1832.4,305.7 1783.4,305.7" fill="#ad78e0"/>
<polygon points="1816,383.2 1839.5,403.7 1816,424.2 1792.5,403.7" fill="#fff" stroke="#9070b0" stroke-width="1.8"/><polygon points="1816,382.2 1840.5,403.7 1791.5,403.7" fill="#ad78e0"/>
<polygon points="1824.1,530.5 1847.6,551 1824.1,571.5 1800.6,551" fill="#fff" stroke="#9070b0" stroke-width="1.8"/><polygon points="1824.1,529.5 1848.6,551 1799.6,551" fill="#ad78e0"/>
<polygon points="1832,659 1855.5,679.5 1832,700 1808.5,679.5" fill="#fff" stroke="#9070b0" stroke-width="1.8"/><polygon points="1832,658 1856.5,679.5 1807.5,679.5" fill="#ad78e0"/>
<polygon points="1868,665.5 1891.5,686 1868,706.5 1844.5,686" fill="#fff" stroke="#9070b0" stroke-width="1.8"/><polygon points="1868,664.5 1892.5,686 1843.5,686" fill="#ad78e0"/>
<polygon points="1878,674.2 1901.5,694.7 1878,715.2 1854.5,694.7" fill="#fff" stroke="#9070b0" stroke-width="1.8"/><polygon points="1878,673.2 1902.5,694.7 1853.5,694.7" fill="#ad78e0"/>
<polygon points="1891.5,754.8 1915,775.3 1891.5,795.8 1868,775.3" fill="#fff" stroke="#9070b0" stroke-width="1.8"/><polygon points="1891.5,753.8 1916,775.3 1867,775.3" fill="#ad78e0"/>
<polygon points="1914.4,848.9 1937.9,869.4 1914.4,889.9 1890.9,869.4" fill="#fff" stroke="#9070b0" stroke-width="1.8"/><polygon points="1914.4,847.9 1938.9,869.4 1889.9,869.4" fill="#ad78e0"/>
<polygon points="1938.8,892.5 1962.3,913 1938.8,933.5 1915.3,913" fill="#fff" stroke="#9070b0" stroke-width="1.8"/><polygon points="1938.8,891.5 1963.3,913 1914.3,913" fill="#ad78e0"/>
<polygon points="1946.8,967.5 1970.3,988 1946.8,1008.5 1923.3,988" fill="#fff" stroke="#9070b0" stroke-width="1.8"/><polygon points="1946.8,966.5 1971.3,988 1922.3,988" fill="#ad78e0"/>
<polygon points="1954.4,1047.9 1977.9,1068.4 1954.4,1088.9 1930.9,1068.4" fill="#fff" stroke="#9070b0" stroke-width="1.8"/><polygon points="1954.4,1046.9 1978.9,1068.4 1929.9,1068.4" fill="#ad78e0"/>
<polygon points="1962.5,1066.2 1986,1086.7 1962.5,1107.2 1939,1086.7" fill="#fff" stroke="#9070b0" stroke-width="1.8"/><polygon points="1962.5,1065.2 1987,1086.7 1938,1086.7" fill="#ad78e0"/>
<polygon points="1970.7,1095.7 1994.2,1116.2 1970.7,1136.7 1947.2,1116.2" fill="#fff" stroke="#9070b0" stroke-width="1.8"/><polygon points="1970.7,1094.7 1995.2,1116.2 1946.2,1116.2" fill="#ad78e0"/>
<polygon points="1979,1121.1 2002.5,1141.6 1979,1162.1 1955.5,1141.6" fill="#fff" stroke="#9070b0" stroke-width="1.8"/><polygon points="1979,1120.1 2003.5,1141.6 1954.5,1141.6" fill="#ad78e0"/>
<polygon points="1987,1137.3 2010.5,1157.8 1987,1178.3 1963.5,1157.8" fill="#fff" stroke="#9070b0" stroke-width="1.8"/><polygon points="1987,1136.3 2011.5,1157.8 1962.5,1157.8" fill="#ad78e0"/>
<polygon points="1995,1166.8 2018.5,1187.3 1995,1207.8 1971.5,1187.3" fill="#fff" stroke="#9070b0" stroke-width="1.8"/><polygon points="1995,1165.8 2019.5,1187.3 1970.5,1187.3" fill="#ad78e0"/>
<polygon points="2003.2,1187.1 2026.7,1207.6 2003.2,1228.1 1979.7,1207.6" fill="#fff" stroke="#9070b0" stroke-width="1.8"/><polygon points="2003.2,1186.1 2027.7,1207.6 1978.7,1207.6" fill="#ad78e0"/>
<polygon points="2011.3,1222.7 2034.8,1243.2 2011.3,1263.7 1987.8,1243.2" fill="#fff" stroke="#9070b0" stroke-width="1.8"/><polygon points="2011.3,1221.7 2035.8,1243.2 1986.8,1243.2" fill="#ad78e0"/>
<polygon points="2019.4,1255.2 2042.9,1275.7 2019.4,1296.2 1995.9,1275.7" fill="#fff" stroke="#9070b0" stroke-width="1.8"/><polygon points="2019.4,1254.2 2043.9,1275.7 1994.9,1275.7" fill="#ad78e0"/>
<polygon points="2027.5,1268.5 2051,1289 2027.5,1309.5 2004,1289" fill="#fff" stroke="#9070b0" stroke-width="1.8"/><polygon points="2027.5,1267.5 2052,1289 2003,1289" fill="#ad78e0"/>
<polygon points="2035.7,1279.5 2059.2,1300 2035.7,1320.5 2012.2,1300" fill="#fff" stroke="#9070b0" stroke-width="1.8"/><polygon points="2035.7,1278.5 2060.2,1300 2011.2,1300" fill="#ad78e0"/>
<polygon points="2045,1304.5 2068.5,1325 2045,1345.5 2021.5,1325" fill="#fff" stroke="#9070b0" stroke-width="1.8"/><polygon points="2045,1303.5 2069.5,1325 2020.5,1325" fill="#ad78e0"/>
<polygon points="2051,1316.5 2074.5,1337 2051,1357.5 2027.5,1337" fill="#fff" stroke="#9070b0" stroke-width="1.8"/><polygon points="2051,1315.5 2075.5,1337 2026.5,1337" fill="#ad78e0"/>
<polygon points="2058,1328.3 2081.5,1348.8 2058,1369.3 2034.5,1348.8" fill="#fff" stroke="#9070b0" stroke-width="1.8"/><polygon points="2058,1327.3 2082.5,1348.8 2033.5,1348.8" fill="#ad78e0"/>
<path d="M1773.8,163.2 L1774.9,171.2 L1776,179.2 L1777.2,187.2 L1778.3,195.2 L1779.5,203.2 L1780.7,211.2 L1781.9,219.2 L1783.1,227.2 L1784.3,235.2 L1785.6,243.2 L1786.8,251.2 L1788.1,259.2 L1789.4,267.2 L1790.7,275.2 L1792,283.2 L1793.3,291.2 L1794.6,299.2 L1795.9,307.2 L1797.3,315.2 L1798.6,323.2 L1800,331.2 L1801.3,339.2 L1802.7,347.2 L1804.1,355.2 L1805.5,363.2 L1806.8,371.2 L1808.2,379.2 L1809.7,387.2 L1811.1,395.2 L1812.5,403.2 L1813.9,411.2 L1815.3,419.2 L1816.8,427.2 L1818.2,435.2 L1819.6,443.2 L1821.1,451.2 L1822.5,459.2 L1824,467.2 L1825.5,475.2 L1826.9,483.2 L1828.4,491.2 L1829.9,499.2 L1831.4,507.2 L1832.8,515.2 L1834.3,523.2 L1835.8,531.2 L1837.3,539.2 L1838.8,547.2 L1840.3,555.2 L1841.8,563.2 L1843.3,571.2 L1844.8,579.2 L1846.3,587.2 L1847.8,595.2 L1849.3,603.2 L1850.8,611.2 L1852.4,619.2 L1853.9,627.2 L1855.4,635.2 L1856.9,643.2 L1858.5,651.2 L1860,659.2 L1861.5,667.2 L1863.1,675.2 L1864.6,683.2 L1866.2,691.2 L1867.7,699.2 L1869.3,707.2 L1870.8,715.2 L1872.4,723.2 L1874,731.2 L1875.5,739.2 L1877.1,747.2 L1878.7,755.2 L1880.2,763.2 L1881.8,771.2 L1883.4,779.2 L1885,787.2 L1886.6,795.2 L1888.2,803.2 L1889.8,811.2 L1891.4,819.2 L1893,827.2 L1894.7,835.2 L1896.3,843.2 L1897.9,851.2 L1899.6,859.2 L1901.2,867.2 L1902.9,875.2 L1904.5,883.2 L1906.2,891.2 L1907.9,899.2 L1909.6,907.2 L1911.3,915.2 L1913,923.2 L1914.7,931.2 L1916.4,939.2 L1918.2,947.2 L1919.9,955.2 L1921.7,963.2 L1923.4,971.2 L1925.2,979.2 L1927,987.2 L1928.8,995.2 L1930.6,1003.2 L1932.4,1011.2 L1934.3,1019.2 L1936.1,1027.2 L1938,1035.2 L1939.9,1043.2 L1941.8,1051.2 L1943.7,1059.2 L1945.6,1067.2 L1947.5,1075.2 L1949.5,1083.2 L1951.5,1091.2 L1953.5,1099.2 L1955.5,1107.2 L1957.5,1115.2 L1959.6,1123.2 L1961.7,1131.2 L1963.8,1139.2 L1965.9,1147.2 L1968,1155.2 L1970.2,1163.2 L1972.4,1171.2 L1974.6,1179.2 L1976.8,1187.2 L1979.1,1195.2 L1981.3,1203.2 L1983.7,1211.2 L1986,1219.2 L1988.4,1227.2 L1990.7,1235.2 L1993.2,1243.2 L1995.6,1251.2 L1998.1,1259.2 L2000.6,1267.2 L2003.1,1275.2 L2005.7,1283.2 L2008.3,1291.2 L2011,1299.2 L2013.6,1307.2 L2016.3,1315.2 L2019.1,1323.2 L2021.9,1331.2 L2024.7,1339.2 L2027.5,1347.2 L2030.4,1355.2 L2033.4,1363.2 L2036.3,1371.2 L2039.3,1379.2 L2042.4,1387.2 L2045.5,1395.2 L2048.6,1403.2 L2051.8,1411.2 L2055.1,1419.2 L2058.4,1427.2 L2061.7,1435.2 L2065.1,1443.2 L2065.7,1444.7" fill="none" stroke="#a878dc" stroke-width="7.6" stroke-linejoin="round" stroke-linecap="round"/>
</g>
<g fill="#000">
<rect x="279" y="20" width="1823" height="5"/>
<rect x="279" y="1476.5" width="1823" height="5.3"/>
<rect x="279" y="20" width="5.5" height="1461.8"/>
<rect x="284.5" y="25" width="2.5" height="1452" fill="#666"/>
<rect x="2094" y="20" width="5" height="1461.8"/>
<rect x="2099" y="20" width="2.8" height="1461.8" fill="#6a6a6a"/>
<rect x="636.5" y="20" width="5.5" height="1461.8"/>
<rect x="1002.5" y="20" width="7.5" height="1461.8"/>
<rect x="1368" y="20" width="6" height="1461.8"/>
<rect x="1734" y="20" width="5.5" height="1461.8"/>
<rect x="1374" y="25" width="2" height="1452" fill="#333"/>
<rect x="285" y="148.1" width="18" height="5.2"/>
<rect x="285" y="363.4" width="18" height="5.2"/>
<rect x="285" y="578.2" width="18" height="5.2"/>
<rect x="285" y="791.9" width="18" height="5.2"/>
<rect x="285" y="1006.2" width="18" height="5.2"/>
<rect x="285" y="1220.2" width="18" height="5.2"/>
<rect x="285" y="1433.7" width="18" height="5.2"/>
<rect x="311.6" y="1463" width="5.2" height="14"/>
<rect x="393.6" y="1463" width="5.2" height="14"/>
<rect x="474.7" y="1463" width="5.2" height="14"/>
<rect x="556" y="1463" width="5.2" height="14"/>
<rect x="674.6" y="1463" width="5.2" height="14"/>
<rect x="760.2" y="1463" width="5.2" height="14"/>
<rect x="845.3" y="1463" width="5.2" height="14"/>
<rect x="930.3" y="1463" width="5.2" height="14"/>
<rect x="1039" y="1463" width="5.2" height="14"/>
<rect x="1121.3" y="1463" width="5.2" height="14"/>
<rect x="1202.9" y="1463" width="5.2" height="14"/>
<rect x="1284.6" y="1463" width="5.2" height="14"/>
<rect x="1402.3" y="1463" width="5.2" height="14"/>
<rect x="1483.9" y="1463" width="5.2" height="14"/>
<rect x="1565.6" y="1463" width="5.2" height="14"/>
<rect x="1647.8" y="1463" width="5.2" height="14"/>
<rect x="1769.1" y="1463" width="5.2" height="14"/>
<rect x="1850.7" y="1463" width="5.2" height="14"/>
<rect x="1933.3" y="1463" width="5.2" height="14"/>
<rect x="2015" y="1463" width="5.2" height="14"/>
<rect x="641.5" y="1463" width="3" height="14"/>
</g>
<text transform="translate(260.5,172.7) scale(1.12,1)" font-size="71" text-anchor="end">90</text>
<text transform="translate(260.5,388) scale(1.12,1)" font-size="71" text-anchor="end">75</text>
<text transform="translate(260.5,602.8) scale(1.12,1)" font-size="71" text-anchor="end">60</text>
<text transform="translate(260.5,816.5) scale(1.12,1)" font-size="71" text-anchor="end">45</text>
<text transform="translate(260.5,1030.8) scale(1.12,1)" font-size="71" text-anchor="end">30</text>
<text transform="translate(260.5,1244.8) scale(1.12,1)" font-size="71" text-anchor="end">15</text>
<text transform="translate(260.5,1458.3) scale(1.12,1)" font-size="71" text-anchor="end">0</text>
<text transform="translate(315.7,1536) scale(1.14,1)" font-size="48.5" text-anchor="middle">0</text>
<text transform="translate(400.3,1536) scale(1.14,1)" font-size="48.5" text-anchor="middle">50</text>
<text transform="translate(488,1536) scale(1.14,1)" font-size="48.5" text-anchor="middle">100</text>
<text transform="translate(572.5,1536) scale(1.14,1)" font-size="48.5" text-anchor="middle">150</text>
<text transform="translate(677,1536) scale(1.14,1)" font-size="48.5" text-anchor="middle">0</text>
<text transform="translate(761.8,1536) scale(1.14,1)" font-size="48.5" text-anchor="middle">50</text>
<text transform="translate(847.8,1536) scale(1.14,1)" font-size="48.5" text-anchor="middle">100</text>
<text transform="translate(933.3,1536) scale(1.14,1)" font-size="48.5" text-anchor="middle">150</text>
<text transform="translate(1041.7,1536) scale(1.14,1)" font-size="48.5" text-anchor="middle">0</text>
<text transform="translate(1123.4,1536) scale(1.14,1)" font-size="48.5" text-anchor="middle">50</text>
<text transform="translate(1205.5,1536) scale(1.14,1)" font-size="48.5" text-anchor="middle">100</text>
<text transform="translate(1287.6,1536) scale(1.14,1)" font-size="48.5" text-anchor="middle">150</text>
<text transform="translate(1404.4,1536) scale(1.14,1)" font-size="48.5" text-anchor="middle">0</text>
<text transform="translate(1486.5,1536) scale(1.14,1)" font-size="48.5" text-anchor="middle">50</text>
<text transform="translate(1569,1536) scale(1.14,1)" font-size="48.5" text-anchor="middle">100</text>
<text transform="translate(1651.2,1536) scale(1.14,1)" font-size="48.5" text-anchor="middle">150</text>
<text transform="translate(1772.6,1536) scale(1.14,1)" font-size="48.5" text-anchor="middle">0</text>
<text transform="translate(1853.3,1536) scale(1.14,1)" font-size="48.5" text-anchor="middle">50</text>
<text transform="translate(1935.9,1536) scale(1.14,1)" font-size="48.5" text-anchor="middle">100</text>
<text transform="translate(2018.5,1536) scale(1.14,1)" font-size="48.5" text-anchor="middle">150</text>
<text transform="translate(614.6,93.2) scale(1.1,1)" font-size="70.6" text-anchor="end">I</text>
<text transform="translate(989,93.4) scale(1.03,1)" font-size="67" text-anchor="end">II</text>
<text transform="translate(1351.3,93.4) scale(1.065,1)" font-size="67" text-anchor="end">III</text>
<text transform="translate(1718.4,95.2) scale(1.075,1)" font-size="66.6" text-anchor="end">IV</text>
<text transform="translate(2076.2,97.6) scale(1.075,1)" font-size="65.9" text-anchor="end">V</text>
<text transform="translate(1172.6,1631.4) scale(1.183,1)" font-size="74.5" text-anchor="middle">Time (h)</text>
<text transform="translate(89,751.8) rotate(-90) scale(1,1.13)" font-size="76" text-anchor="middle">Water content (%)</text>
</svg></body></html>
